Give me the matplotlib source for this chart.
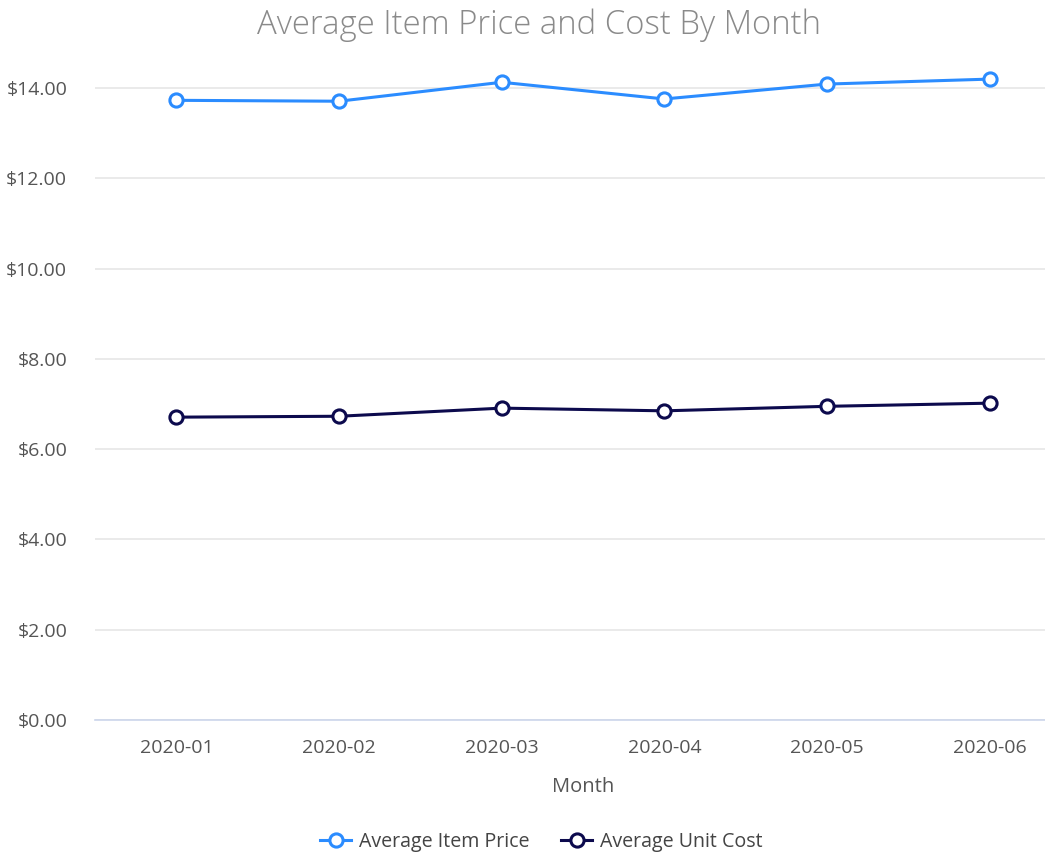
import matplotlib
matplotlib.use("Agg")
import matplotlib.pyplot as plt

months = ["2020-01", "2020-02", "2020-03", "2020-04", "2020-05", "2020-06"]
avg_item_price = [13.73, 13.71, 14.13, 13.76, 14.09, 14.20]
avg_unit_cost = [6.71, 6.73, 6.91, 6.85, 6.95, 7.02]
y_ticks = [0, 2, 4, 6, 8, 10, 12, 14]

plt.rcParams["font.family"] = ["Open Sans", "DejaVu Sans"]

fig = plt.figure(figsize=(10.45, 8.6), dpi=100)
# plot area runs a little past the right edge, as in the original
ax = fig.add_axes([95 / 1045, 140 / 860, 976 / 1045, 677 / 860])

x = list(range(len(months)))
ax.plot(x, avg_item_price, color="#2b8cff", lw=2.2, marker="o", ms=9.5,
        mfc="white", mec="#2b8cff", mew=2.2, label="Average Item Price", zorder=3)
ax.plot(x, avg_unit_cost, color="#0c0a4d", lw=2.2, marker="o", ms=9.5,
        mfc="white", mec="#0c0a4d", mew=2.2, label="Average Unit Cost", zorder=3)

ax.set_xlim(-0.5, 5.5)
ax.set_ylim(0, 15)
ax.set_xticks(x)
ax.set_xticklabels(months)
ax.set_yticks(y_ticks)
ax.set_yticklabels([f"${v:.2f}" for v in y_ticks])

ax.grid(axis="y", color="#e6e6e6", lw=1.2)
ax.set_axisbelow(True)
for side in ["top", "right", "left"]:
    ax.spines[side].set_visible(False)
ax.spines["bottom"].set_color("#ccd6eb")
ax.spines["bottom"].set_linewidth(1.2)
ax.tick_params(axis="both", length=0, labelsize=14, colors="#555555")
ax.tick_params(axis="x", pad=14)
ax.tick_params(axis="y", pad=20)

ax.set_xlabel("Month", fontsize=14.5, color="#555555", labelpad=14)
fig.suptitle("Average Item Price and Cost By Month", fontsize=23.7,
             color="#8a8a8a", fontweight="light", x=0.516, y=0.99)

fig.legend(loc="lower center", bbox_to_anchor=(0.518, -0.011), ncol=2, frameon=False,
           fontsize=14.1, labelcolor="#444444", handlelength=1.6, columnspacing=1.6,
           handletextpad=0.4)

fig.savefig("out.png", dpi=100)
